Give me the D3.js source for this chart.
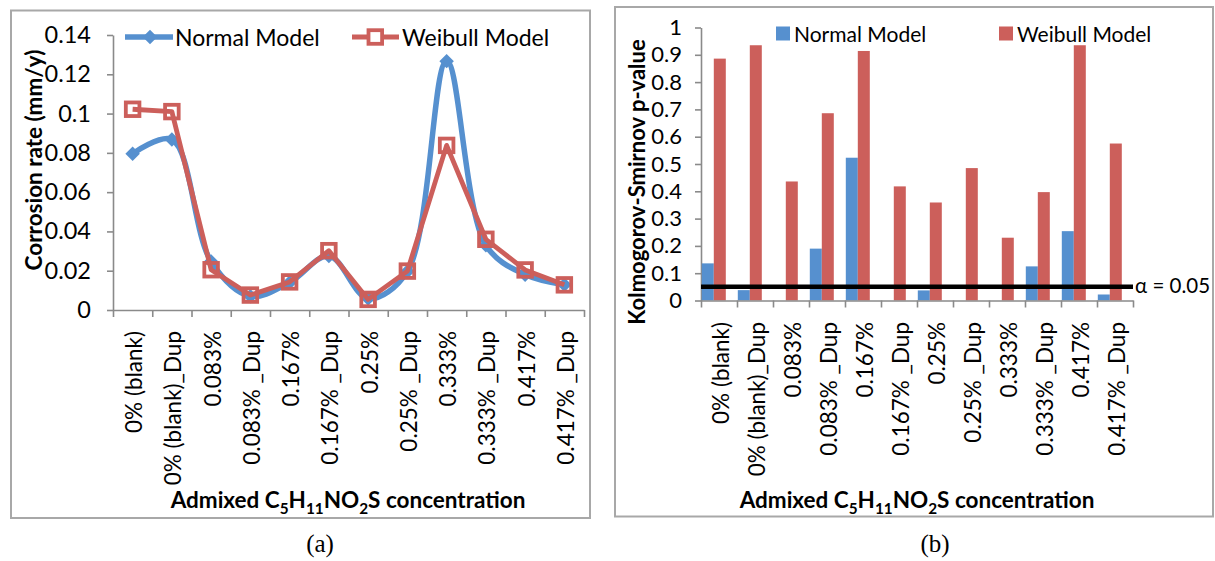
<!DOCTYPE html>
<html><head><meta charset="utf-8">
<script src="https://cdn.jsdelivr.net/npm/d3@7"></script>
<style>
body{margin:0;background:#fff}
svg{display:block}
text{font-family:Lato,"Open Sans",sans-serif;fill:#000}
</style>
</head><body>
<svg id="c" width="1215" height="561"></svg>
<script>
// ---------- data ----------
const categories = ["0% (blank)","0% (blank)_Dup","0.083%","0.083% _Dup","0.167%","0.167% _Dup","0.25%","0.25% _Dup","0.333%","0.333% _Dup","0.417%","0.417% _Dup"];
const seriesNames = ["Normal Model","Weibull Model"];
// (a) corrosion rate, mm/y
const corrosionNormal  = [0.0796,0.0868,0.0247,0.0070,0.0140,0.0275,0.0058,0.0196,0.1267,0.0330,0.0180,0.0128];
const corrosionWeibull = [0.1022,0.1010,0.0205,0.0076,0.0143,0.0302,0.0054,0.0198,0.0838,0.0360,0.0204,0.0128];
const corrosionTicks = [0,0.02,0.04,0.06,0.08,0.1,0.12,0.14];
const corrosionTickLabels = ["0","0.02","0.04","0.06","0.08","0.1","0.12","0.14"];
// (b) Kolmogorov-Smirnov p-values
const ksNormal  = [0.136,0.038,0,0.190,0.523,0,0.037,0,0,0.125,0.254,0.022];
const ksWeibull = [0.886,0.935,0.436,0.686,0.914,0.418,0.359,0.485,0.230,0.397,0.935,0.575];
const ksTicks = [0,0.1,0.2,0.3,0.4,0.5,0.6,0.7,0.8,0.9,1];
const ksTickLabels = ["0","0.1","0.2","0.3","0.4","0.5","0.6","0.7","0.8","0.9","1"];
const alphaLevel = 0.05;
const alphaLabel = "α = 0.05";
const xTitleParts = [["Admixed C",0],["5",1],["H",0],["11",1],["NO",0],["2",1],["S concentration",0]];
const captions = ["(a)","(b)"];

// ---------- styles ----------
const BLUE = "#5690cf", RED = "#cc5f5b", AXIS = "#8a8a8a", FRAME = "#a8a8a8";
const svg = d3.select("#c");

function frame(x0,y0,x1,y1){
  svg.append("rect").attr("x",x0).attr("y",y0).attr("width",x1-x0).attr("height",y1-y0)
    .attr("fill","none").attr("stroke",FRAME).attr("stroke-width",2);
}
function xTitle(g,cx,y,size){
  const t = g.append("text").attr("x",cx).attr("y",y).attr("text-anchor","middle")
    .attr("font-weight","bold").attr("font-size",size);
  xTitleParts.forEach(([s,sub],i)=>{
    const prev = i>0 ? xTitleParts[i-1][1] : 0;
    const ts = t.append("tspan").text(s);
    if(sub){ ts.attr("font-size",size*0.68).attr("dy", prev? 0 : size*0.28); }
    else if(prev){ ts.attr("dy",-size*0.28); }
  });
}
function catAxis(g,xBand,y0,labelY,fontSize){
  const n = categories.length;
  const xi = d3.scaleLinear().domain([0,n]).range(xBand.range());
  const ax = g.append("g").attr("transform",`translate(0,${y0})`)
    .call(d3.axisBottom(xi).tickValues(d3.range(n+1)).tickFormat("").tickSize(7).tickSizeOuter(0));
  ax.selectAll("path,line").attr("stroke",AXIS).attr("stroke-width",1.6);
  g.append("g").selectAll("text").data(categories).join("text")
    .attr("transform",d=>`translate(${xBand(d)+xBand.bandwidth()/2+1},${labelY}) rotate(-90)`)
    .attr("text-anchor","end").attr("dominant-baseline","central")
    .attr("font-size",fontSize).text(d=>d);
}
function valAxis(g,y,x0,ticks,labels,pad,fontSize){
  const ax = g.append("g").attr("transform",`translate(${x0},0)`)
    .call(d3.axisLeft(y).tickValues(ticks).tickFormat((d,i)=>labels[i]).tickSize(6).tickSizeOuter(0).tickPadding(pad));
  ax.selectAll("path,line").attr("stroke",AXIS).attr("stroke-width",1.6);
  ax.selectAll("text").attr("font-size",fontSize).attr("font-family","Lato,sans-serif").attr("fill","#000");
}

// ================= (a) =================
frame(11,10.5,590,518);
const gA = svg.append("g");
const xA = d3.scaleBand().domain(categories).range([113,584]).paddingInner(0);
const yA = d3.scaleLinear().domain([0,0.14]).range([310,35]);
const cx = d=>xA(d)+xA.bandwidth()/2;

valAxis(gA,yA,113,corrosionTicks,corrosionTickLabels,16,23.5);
catAxis(gA,xA,310,331,22.5);

const normPts = categories.map((c,i)=>[cx(c),yA(corrosionNormal[i])]);
const weibPts = categories.map((c,i)=>[cx(c),yA(corrosionWeibull[i])]);
gA.append("path").attr("d",d3.line().curve(d3.curveCatmullRom.alpha(0.5))(normPts))
  .attr("fill","none").attr("stroke",BLUE).attr("stroke-width",5.5).attr("stroke-linejoin","round");
const diamondPath = d3.symbol().type(d3.symbolSquare).size(105)();
gA.append("g").selectAll("path").data(normPts).join("path")
  .attr("d",diamondPath).attr("transform",d=>`translate(${d[0]},${d[1]}) rotate(45)`)
  .attr("fill",BLUE);
gA.append("path").attr("d",d3.line()(weibPts))
  .attr("fill","none").attr("stroke",RED).attr("stroke-width",4.8).attr("stroke-linejoin","round");
gA.append("g").selectAll("rect").data(weibPts).join("rect")
  .attr("x",d=>d[0]-6.8).attr("y",d=>d[1]-6.8).attr("width",13.6).attr("height",13.6)
  .attr("fill","none").attr("stroke",RED).attr("stroke-width",3.8);

gA.append("text").attr("transform","translate(33,160) rotate(-90)").attr("text-anchor","middle")
  .attr("dominant-baseline","central").attr("font-weight","bold").attr("font-size",22.5)
  .text("Corrosion rate (mm/y)");
xTitle(gA,348,508,22.5);

// legend (a)
const legA = gA.append("g");
legA.append("line").attr("x1",125).attr("x2",173).attr("y1",37).attr("y2",37).attr("stroke",BLUE).attr("stroke-width",5.5);
legA.append("path").attr("d",diamondPath).attr("transform","translate(150,37) rotate(45)").attr("fill",BLUE);
legA.append("text").attr("x",175).attr("y",37).attr("dominant-baseline","central").attr("font-size",23).text(seriesNames[0]);
legA.append("line").attr("x1",352).attr("x2",399).attr("y1",37).attr("y2",37).attr("stroke",RED).attr("stroke-width",4.8);
legA.append("rect").attr("x",368.5).attr("y",30.2).attr("width",13.6).attr("height",13.6).attr("fill","#fff").attr("stroke",RED).attr("stroke-width",3.8);
legA.append("text").attr("x",402).attr("y",37).attr("dominant-baseline","central").attr("font-size",23).text(seriesNames[1]);

// ================= (b) =================
frame(615,7,1213,516.5);
const gB = svg.append("g");
const xB = d3.scaleBand().domain(categories).range([701,1133]).paddingInner(0);
const slot = d3.scaleBand().domain(["n","w","gap"]).range([0,xB.bandwidth()]);
const yB = d3.scaleLinear().domain([0,1]).range([300.5,27.5]);

valAxis(gB,yB,701,ksTicks,ksTickLabels,13,22);

gB.append("g").selectAll("rect").data(ksNormal).join("rect")
  .attr("x",(d,i)=>xB(categories[i])+slot("n")+0.8).attr("width",slot.bandwidth())
  .attr("y",d=>yB(d)).attr("height",d=>yB(0)-yB(d)).attr("fill",BLUE);
gB.append("g").selectAll("rect").data(ksWeibull).join("rect")
  .attr("x",(d,i)=>xB(categories[i])+slot("w")+0.8).attr("width",slot.bandwidth())
  .attr("y",d=>yB(d)).attr("height",d=>yB(0)-yB(d)).attr("fill",RED);

catAxis(gB,xB,300.5,322,22.5);

gB.append("line").attr("x1",xB.range()[0]).attr("x2",xB.range()[1])
  .attr("y1",yB(alphaLevel)).attr("y2",yB(alphaLevel)).attr("stroke","#000").attr("stroke-width",4.5);
gB.append("text").attr("x",1135).attr("y",yB(alphaLevel)-2).attr("dominant-baseline","central")
  .attr("font-size",20.5).text(alphaLabel);

gB.append("text").attr("transform","translate(636,182) rotate(-90)").attr("text-anchor","middle")
  .attr("dominant-baseline","central").attr("font-weight","bold").attr("font-size",22)
  .text("Kolmogorov-Smirnov p-value");
xTitle(gB,917,508,22.5);

// legend (b)
const legB = gB.append("g");
legB.append("rect").attr("x",776).attr("y",26.5).attr("width",14).attr("height",14).attr("fill",BLUE);
legB.append("text").attr("x",794).attr("y",33.5).attr("dominant-baseline","central").attr("font-size",21).text(seriesNames[0]);
legB.append("rect").attr("x",999).attr("y",26.5).attr("width",14).attr("height",14).attr("fill",RED);
legB.append("text").attr("x",1017).attr("y",33.5).attr("dominant-baseline","central").attr("font-size",21).text(seriesNames[1]);

// captions
svg.append("text").attr("x",320).attr("y",552).attr("text-anchor","middle")
  .style("font-family","'Liberation Serif','DejaVu Serif',serif").attr("font-size",25).text(captions[0]);
svg.append("text").attr("x",935).attr("y",552).attr("text-anchor","middle")
  .style("font-family","'Liberation Serif','DejaVu Serif',serif").attr("font-size",25).text(captions[1]);
</script>
</body></html>
